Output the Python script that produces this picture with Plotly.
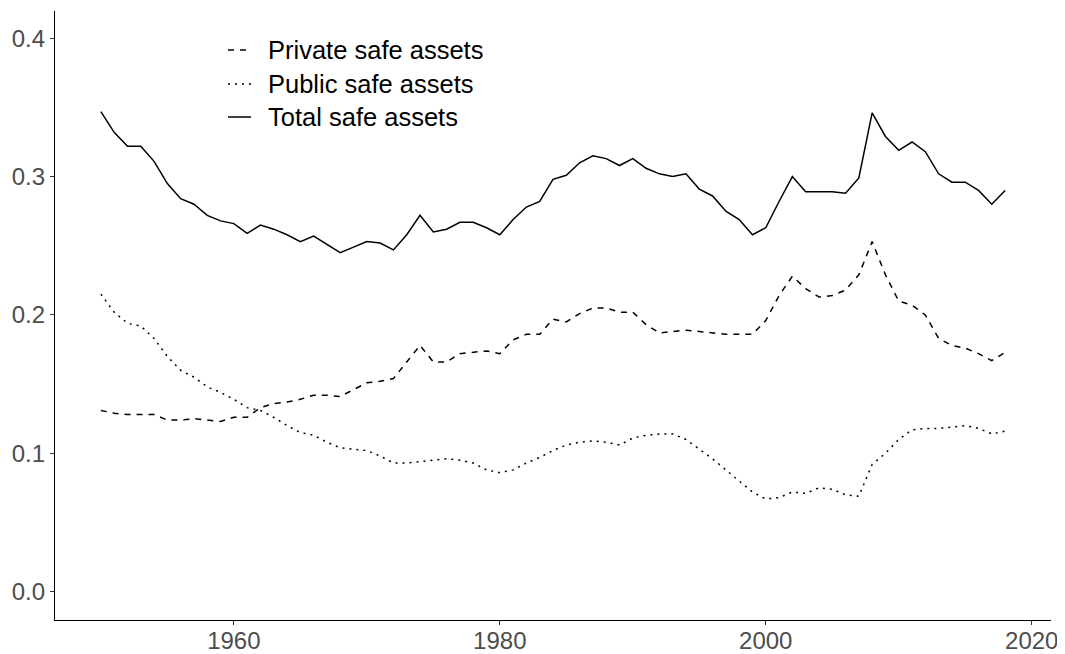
import plotly.graph_objects as go

years = list(range(1950, 2019))

private_safe = [
    0.131, 0.129, 0.128, 0.128, 0.128, 0.124, 0.124, 0.125, 0.124, 0.123,
    0.126, 0.126, 0.133, 0.136, 0.137, 0.139, 0.142, 0.142, 0.141, 0.146,
    0.151, 0.152, 0.154, 0.166, 0.178, 0.166, 0.166, 0.172, 0.173, 0.174,
    0.172, 0.182, 0.186, 0.186, 0.197, 0.195, 0.201, 0.205, 0.205, 0.202,
    0.202, 0.193, 0.187, 0.188, 0.189, 0.188, 0.187, 0.186, 0.186, 0.186,
    0.196, 0.214, 0.228, 0.219, 0.213, 0.214, 0.218, 0.229, 0.253, 0.229,
    0.210, 0.207, 0.200, 0.183, 0.178, 0.176, 0.172, 0.167, 0.173,
]

public_safe = [
    0.215, 0.202, 0.194, 0.192, 0.183, 0.170, 0.160, 0.155, 0.148, 0.144,
    0.139, 0.133, 0.131, 0.126, 0.120, 0.115, 0.113, 0.108, 0.104, 0.103,
    0.102, 0.098, 0.093, 0.093, 0.094, 0.095, 0.096, 0.095, 0.093, 0.088,
    0.086, 0.088, 0.093, 0.097, 0.102, 0.106, 0.108, 0.109, 0.108, 0.106,
    0.111, 0.113, 0.114, 0.114, 0.110, 0.103, 0.096, 0.088, 0.080, 0.072,
    0.067, 0.068, 0.072, 0.071, 0.075, 0.074, 0.070, 0.069, 0.092, 0.100,
    0.110, 0.117, 0.118, 0.118, 0.119, 0.120, 0.118, 0.114, 0.116,
]

total_safe = [
    0.347, 0.332, 0.322, 0.322, 0.311, 0.295, 0.284, 0.280, 0.272, 0.268,
    0.266, 0.259, 0.265, 0.262, 0.258, 0.253, 0.257, 0.251, 0.245, 0.249,
    0.253, 0.252, 0.247, 0.258, 0.272, 0.260, 0.262, 0.267, 0.267, 0.263,
    0.258, 0.269, 0.278, 0.282, 0.298, 0.301, 0.310, 0.315, 0.313, 0.308,
    0.313, 0.306, 0.302, 0.300, 0.302, 0.291, 0.286, 0.275, 0.269, 0.258,
    0.263, 0.282, 0.300, 0.289, 0.289, 0.289, 0.288, 0.299, 0.346, 0.329,
    0.319, 0.325, 0.318, 0.302, 0.296, 0.296, 0.290, 0.280, 0.290,
]

series_names = ["Private safe assets", "Public safe assets", "Total safe assets"]
series_dash = ["6px,6px", "2px,5px", "solid"]
x_ticks = [1960, 1980, 2000, 2020]
y_ticks = [0.0, 0.1, 0.2, 0.3, 0.4]
y_tick_labels = ["0.0", "0.1", "0.2", "0.3", "0.4"]

FONT = "Liberation Sans, Arial, Helvetica, sans-serif"
BODY = 8  # default page body margin
W, H = 1065 - BODY, 654 - BODY
ML, MR, MT, MB = 55 - BODY, 14, 11 - BODY, 34
PW, PH = W - ML - MR, H - MT - MB

def px_x(p):
    return (p - BODY - ML) / PW

def px_y(p):
    return (BODY + H - MB - p) / PH

fig = go.Figure()
for name, vals, dash in zip(series_names, [private_safe, public_safe, total_safe], series_dash):
    fig.add_trace(go.Scatter(x=years, y=vals, mode="lines", name=name, showlegend=False,
                             line=dict(color="black", width=1.5, dash=dash)))

# manual legend (layout only)
legend_rows = [50, 84, 117]
for name, dash, row in zip(series_names, series_dash, legend_rows):
    fig.add_shape(type="line", xref="paper", yref="paper",
                  x0=px_x(228), x1=px_x(251), y0=px_y(row), y1=px_y(row),
                  line=dict(color="black", width=1.5, dash=dash))
    fig.add_annotation(xref="paper", yref="paper", x=px_x(266), y=px_y(row),
                       xanchor="left", yanchor="middle", showarrow=False,
                       text=name, font=dict(size=25.5, color="black", family=FONT))

axis_common = dict(showgrid=False, zeroline=False, automargin=False,
                   showline=True, linecolor="black", linewidth=1.4,
                   ticks="outside", ticklen=4, tickwidth=1.2, tickcolor="#333333",
                   tickfont=dict(size=24, color="#4d4d4d", family=FONT))

fig.update_layout(
    width=W, height=H,
    margin=dict(l=ML, r=MR, t=MT, b=MB, autoexpand=False),
    paper_bgcolor="white", plot_bgcolor="white",
    font=dict(family=FONT, size=24, color="black"),
    showlegend=False,
    xaxis=dict(range=[1946.55, 2021.45], tickvals=x_ticks, ticklabelstandoff=-5, **axis_common),
    yaxis=dict(range=[-0.0205, 0.4197], tickvals=y_ticks, ticktext=y_tick_labels, **axis_common),
)

fig.write_html("out.html")
